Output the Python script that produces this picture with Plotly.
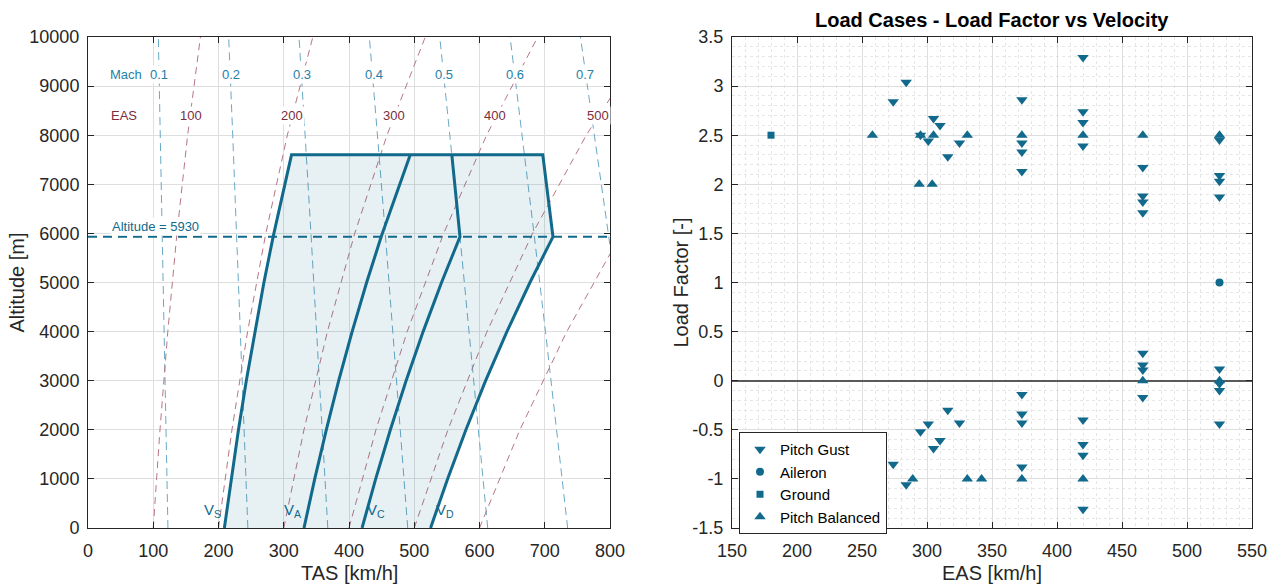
import plotly.graph_objects as go

# ---------------- Left chart: flight envelope (TAS vs altitude) ----------------
alt_grid = [0, 2000, 4000, 6000, 8000, 10000]

mach_numbers = ["0.1", "0.2", "0.3", "0.4", "0.5", "0.6", "0.7"]
mach_tas = [
    [122.5, 119.7, 116.9, 113.9, 110.9, 107.8],
    [245.0, 239.4, 233.7, 227.8, 221.8, 215.6],
    [367.5, 359.1, 350.6, 341.7, 332.7, 323.4],
    [490.0, 478.8, 467.4, 455.6, 443.6, 431.2],
    [612.6, 598.6, 584.3, 569.6, 554.5, 539.1],
    [735.1, 718.3, 701.1, 683.5, 665.4, 646.9],
    [857.6, 838.0, 818.0, 797.4, 776.3, 754.7],
]
mach_label_tas = [109, 219.5, 327.7, 437.6, 545, 654, 762]
mach_label_alt = 9230

eas_numbers = ["100", "200", "300", "400", "500"]
eas_tas = [
    [100, 110.3, 122.3, 136.3, 152.7, 172.3],
    [200, 220.6, 244.6, 272.5, 305.5, 344.6],
    [300, 331.0, 366.9, 408.8, 458.2, 516.9],
    [400, 441.3, 489.2, 545.1, 610.9, 689.2],
    [500, 551.6, 611.5, 681.3, 763.6, 861.4],
    [600, 661.9, 733.7, 817.6, 916.4, 1033.7],
]
eas_label_tas = [158, 313, 469, 624, 782]
eas_label_alt = 8410

v_alt = [0, 1000, 2000, 3000, 4000, 5000, 5930, 7600]
vs_tas = [209, 219.4, 230.6, 242.6, 255.6, 269.6, 283.7, 311.9]
va_tas = [331, 347.5, 365.2, 384.2, 404.8, 427.0, 449.3, 493.9]
vc_tas = [420, 440.9, 463.4, 487.5, 513.6, 541.8, 570.1, 557.6]
vd_tas = [525, 551.1, 579.2, 609.4, 642.0, 677.3, 712.6, 697.0]
v_labels = ["V<sub>S</sub>", "V<sub>A</sub>", "V<sub>C</sub>", "V<sub>D</sub>"]
v_label_tas = [191, 313, 441, 547]
v_label_alt = 360
design_altitude = 5930

left_xticks = [0, 100, 200, 300, 400, 500, 600, 700, 800]
left_yticks = [0, 1000, 2000, 3000, 4000, 5000, 6000, 7000, 8000, 9000, 10000]
left_yticktext = ["0", "1000", "2000", "3000", "4000", "5000", "6000", "7000", "8000", "9000", "10000"]

# ---------------- Right chart: load cases ----------------
gust_eas = [284, 274, 295, 301, 305, 310, 325, 316,
            420, 373, 373, 373, 373, 420, 420, 420,
            466, 466, 466, 466,
            525, 525, 525, 525,
            525, 525, 525, 525,
            466, 466, 466, 466,
            373, 373, 373, 373,
            420, 420, 420, 420,
            316, 301, 295, 325, 310, 305, 274, 284]
gust_n = [3.04, 2.84, 2.5, 2.44, 2.67, 2.6, 2.42, 2.28,
          3.29, 2.86, 2.42, 2.33, 2.13, 2.74, 2.63, 2.39,
          2.17, 1.88, 1.82, 1.71,
          2.45, 2.09, 2.03, 1.87,
          0.12, -0.03, -0.1, -0.44,
          0.28, 0.16, 0.11, -0.17,
          -0.14, -0.34, -0.43, -0.88,
          -0.40, -0.65, -0.76, -1.31,
          -0.30, -0.44, -0.52, -0.43, -0.61, -0.69, -0.85, -1.06]

aileron_eas = [525]
aileron_n = [1.0]

ground_eas = [180]
ground_n = [2.5]

balanced_eas = [258, 295, 305, 331, 294, 304, 373, 420, 466, 525, 466, 525, 373, 420, 289, 331, 342]
balanced_n = [2.5, 2.5, 2.5, 2.5, 2.0, 2.0, 2.5, 2.5, 2.5, 2.5, 0.0, 0.0, -1.0, -1.0, -1.0, -1.0, -1.0]

right_xticks = [150, 200, 250, 300, 350, 400, 450, 500, 550]
right_yticks = [-1.5, -1, -0.5, 0, 0.5, 1, 1.5, 2, 2.5, 3, 3.5]
right_yticktext = ["-1.5", "-1", "-0.5", "0", "0.5", "1", "1.5", "2", "2.5", "3", "3.5"]

# ---------------- Styling ----------------
FONT = "Liberation Sans, Arial, Helvetica, sans-serif"
MAIN = "#11698c"
MACH_LINE = "#6aa9c6"
EAS_LINE = "#b77685"
MACH_TEXT = "#2580a8"
EAS_TEXT = "#7b2d3e"
AXIS = "#262626"
GRID = "#dedede"
MINOR_GRID = "#e6e6e6"

W, H = 1278, 584

fig = go.Figure()

# Mach lines
for tas in mach_tas:
    fig.add_trace(go.Scatter(x=tas, y=alt_grid, mode="lines", showlegend=False,
                             line=dict(color=MACH_LINE, width=1, dash="8px,5px"),
                             hoverinfo="skip", xaxis="x", yaxis="y"))
# EAS lines
for tas in eas_tas:
    fig.add_trace(go.Scatter(x=tas, y=alt_grid, mode="lines", showlegend=False,
                             line=dict(color=EAS_LINE, width=1, dash="7px,5px"),
                             hoverinfo="skip", xaxis="x", yaxis="y"))

# envelope fill
env_x = vs_tas + vd_tas[::-1]
env_y = v_alt + v_alt[::-1]
fig.add_trace(go.Scatter(x=env_x + [vs_tas[0]], y=env_y + [v_alt[0]], mode="lines",
                         fill="toself", fillcolor="rgba(17,105,140,0.10)",
                         line=dict(width=0, color="rgba(0,0,0,0)"), showlegend=False,
                         hoverinfo="skip", xaxis="x", yaxis="y"))
# envelope outline (VS, top, VD)
fig.add_trace(go.Scatter(x=env_x, y=env_y, mode="lines", showlegend=False,
                         line=dict(color=MAIN, width=3), xaxis="x", yaxis="y"))
for tas in (va_tas, vc_tas):
    fig.add_trace(go.Scatter(x=tas, y=v_alt, mode="lines", showlegend=False,
                             line=dict(color=MAIN, width=3), xaxis="x", yaxis="y"))

# design altitude line
fig.add_trace(go.Scatter(x=[left_xticks[0], left_xticks[-1]], y=[design_altitude, design_altitude],
                         mode="lines", showlegend=False,
                         line=dict(color=MAIN, width=2, dash="9px,6px"), xaxis="x", yaxis="y"))

# ---------------- Right chart traces ----------------
fig.add_trace(go.Scatter(x=gust_eas, y=gust_n, mode="markers", name="Pitch Gust",
                         marker=dict(symbol="triangle-down", size=10, color=MAIN),
                         xaxis="x2", yaxis="y2"))
fig.add_trace(go.Scatter(x=aileron_eas, y=aileron_n, mode="markers", name="Aileron",
                         marker=dict(symbol="circle", size=8, color=MAIN),
                         xaxis="x2", yaxis="y2"))
fig.add_trace(go.Scatter(x=ground_eas, y=ground_n, mode="markers", name="Ground",
                         marker=dict(symbol="square", size=7, color=MAIN),
                         xaxis="x2", yaxis="y2"))
fig.add_trace(go.Scatter(x=balanced_eas, y=balanced_n, mode="markers", name="Pitch Balanced",
                         marker=dict(symbol="triangle-up", size=10, color=MAIN),
                         xaxis="x2", yaxis="y2"))

annotations = []
lbl = dict(showarrow=False, xanchor="center", yanchor="middle", bgcolor="white", borderpad=1)
# Mach labels
annotations.append(dict(x=58, y=mach_label_alt, xref="x", yref="y", text="Mach",
                        font=dict(family=FONT, size=13, color=MACH_TEXT), **lbl))
for lab, tx in zip(mach_numbers, mach_label_tas):
    annotations.append(dict(x=tx, y=mach_label_alt, xref="x", yref="y", text=lab,
                            font=dict(family=FONT, size=13, color=MACH_TEXT), **lbl))
annotations.append(dict(x=55, y=eas_label_alt, xref="x", yref="y", text="EAS",
                        font=dict(family=FONT, size=13, color=EAS_TEXT), **lbl))
for lab, tx in zip(eas_numbers, eas_label_tas):
    annotations.append(dict(x=tx, y=eas_label_alt, xref="x", yref="y", text=lab,
                            font=dict(family=FONT, size=13, color=EAS_TEXT), **lbl))
annotations.append(dict(x=33, y=6150, xref="x", yref="y", text="Altitude = 5930", showarrow=False,
                        xanchor="left", yanchor="middle", font=dict(family=FONT, size=13, color=MAIN),
                        bgcolor="white", borderpad=1))
for lab, tx in zip(v_labels, v_label_tas):
    annotations.append(dict(x=tx, y=v_label_alt, xref="x", yref="y", text=lab, showarrow=False,
                            xanchor="center", yanchor="middle",
                            font=dict(family=FONT, size=15, color=MAIN)))

# axis titles and chart title
ttl = dict(xref="paper", yref="paper", showarrow=False, xanchor="center", yanchor="middle")
annotations += [
    dict(x=16 / W, y=1 - 282.5 / H, text="Altitude [m]", textangle=-90,
         font=dict(family=FONT, size=20, color=AXIS), **ttl),
    dict(x=349 / W, y=1 - 573 / H, text="TAS [km/h]",
         font=dict(family=FONT, size=20, color=AXIS), **ttl),
    dict(x=680 / W, y=1 - 282.5 / H, text="Load Factor [-]", textangle=-90,
         font=dict(family=FONT, size=20, color=AXIS), **ttl),
    dict(x=992 / W, y=1 - 573 / H, text="EAS [km/h]",
         font=dict(family=FONT, size=20, color=AXIS), **ttl),
    dict(x=992 / W, y=1 - 20 / H, text="<b>Load Cases - Load Factor vs Velocity</b>",
         font=dict(family=FONT, size=20, color="black"), **ttl),
]

common_axis = dict(showline=True, linecolor=AXIS, linewidth=1, mirror="ticks", ticks="inside",
                   ticklen=6, tickcolor=AXIS, showgrid=True, gridcolor=GRID, gridwidth=1,
                   tickfont=dict(family=FONT, size=18, color=AXIS), automargin=False)

y_dom = [(H - 528) / H, (H - 37) / H]

fig.update_layout(
    width=W, height=H, autosize=False,
    margin=dict(l=0, r=0, t=0, b=0, autoexpand=False),
    paper_bgcolor="white", plot_bgcolor="white",
    font=dict(family=FONT, color=AXIS),
    xaxis=dict(domain=[88 / W, 610 / W], range=[0, 800], tickvals=left_xticks, anchor="y",
               ticklabelstandoff=6, zeroline=False, **common_axis),
    yaxis=dict(domain=y_dom, range=[0, 10000], tickvals=left_yticks, ticktext=left_yticktext,
               anchor="x", ticklabelstandoff=4, zeroline=False, **common_axis),
    xaxis2=dict(domain=[732 / W, 1252 / W], range=[150, 550], tickvals=right_xticks, anchor="y2",
                ticklabelstandoff=6, zeroline=False,
                minor=dict(dtick=10, tick0=150, showgrid=True, gridcolor=MINOR_GRID, griddash="dot", ticks=""),
                **common_axis),
    yaxis2=dict(domain=y_dom, range=[-1.5, 3.5], tickvals=right_yticks, ticktext=right_yticktext,
                anchor="x2", ticklabelstandoff=4,
                minor=dict(dtick=0.1, tick0=0, showgrid=True, gridcolor=MINOR_GRID, griddash="dot", ticks=""),
                zeroline=True, zerolinecolor="#5a5a5a", zerolinewidth=1.5, **common_axis),
    legend=dict(x=739 / W, y=1 - 432 / H, xanchor="left", yanchor="top",
                bgcolor="white", bordercolor=AXIS, borderwidth=1,
                font=dict(family=FONT, size=15, color="black"), tracegroupgap=0),
    annotations=annotations,
    showlegend=True,
)

fig.write_html("out.html")
